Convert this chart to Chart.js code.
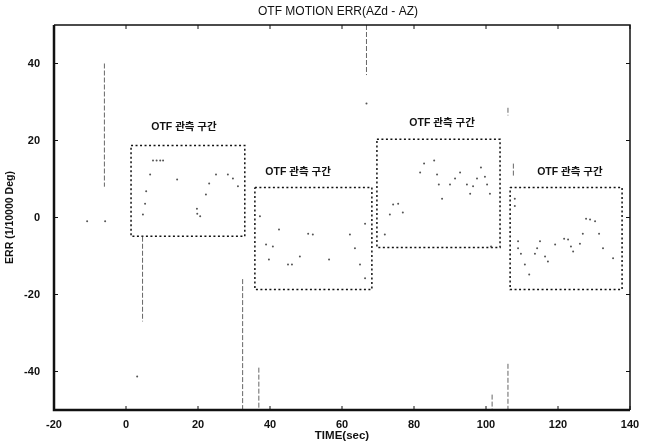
<!DOCTYPE html>
<html>
<head>
<meta charset="utf-8">
<script src="https://cdn.jsdelivr.net/npm/chart.js@4.4.1/dist/chart.umd.min.js"></script>
<style>
  body { margin: 0; background: #fff; }
  #wrap { width: 650px; height: 444px; }
</style>
</head>
<body>
<div id="wrap"><canvas id="chartOtf"></canvas></div>
<script>
const xTicks = [-20, 0, 20, 40, 60, 80, 100, 120, 140]
const yTicks = [-40, -20, 0, 20, 40]

// puntos sueltos del error (tiempo, error)
const timeSec = [
  -10.8, -5.8, 3.1, 66.8,
  4.7, 5.3, 5.6, 6.7, 7.5, 8.5, 9.5, 10.3, 14.2, 19.7, 19.8, 20.6, 22.2, 23.1, 25, 28.3, 29.7, 31.1,
  37.2, 38.9, 39.7, 40.8, 42.5, 45, 46.1, 48.3, 50.6, 51.9, 56.4, 62.2, 63.6, 65, 66.4, 66.4,
  71.9, 73.3, 74.2, 75.6, 76.9, 81.7, 82.8, 85.6, 86.4, 86.9, 87.8, 90, 91.4, 92.8, 94.7, 95.6, 96.4, 97.5, 98.6, 99.7, 100.3, 101.1, 101.4,
  108, 108, 108.9, 108.9, 109.7, 110.8, 112, 113.6, 114.2, 115, 116.4, 117.2, 119.2, 121.7, 122.8, 123.6, 124.2, 126.1, 126.9, 127.8, 128.9, 130.3, 131.4, 132.5, 135.3
]
const errVal = [
  -1, -1, -41.3, 29.6,
  0.8, 3.6, 6.8, 11.2, 14.8, 14.8, 14.8, 14.8, 9.9, 2.3, 1.0, 0.3, 6, 8.8, 11.2, 11.2, 10.1, 8.1,
  0.3, -7, -10.9, -7.5, -3.1, -12.2, -12.2, -10.1, -4.2, -4.4, -10.9, -4.4, -8, -12.2, -15.8, -1.6,
  -4.4, 0.8, 3.4, 3.6, 1.3, 11.7, 14, 14.8, 11.2, 8.6, 4.9, 8.6, 10.1, 11.7, 8.6, 6.2, 8.1, 10.1, 13, 10.6, 8.6, 6.2, -7.5,
  4.9, 3, -6.2, -8, -9.4, -12.2, -14.8, -9.4, -8, -6.2, -10.1, -11.4, -7, -5.5, -5.7, -7.5, -8.8, -6.8, -4.2, -0.3, -0.5, -1, -4.2, -8, -10.6
]

// saltos verticales entre tramos
const spikeX = [-6.0, 4.6, 32.4, 36.9, 66.8, 101.7, 106.1, 106.1, 107.6]
const spikeTop = [40, -5, -16, -39, 50, -46, -38, 28.5, 14]
const spikeBottom = [8, -27, -50, -50, 37, -50, -50, 26.5, 10.5]

// zonas de observacion OTF
const boxX1 = [1.4, 35.8, 69.7, 106.7]
const boxX2 = [33, 68.3, 103.9, 137.8]
const boxTop = [18.7, 7.8, 20.3, 7.8]
const boxBottom = [-4.9, -18.7, -7.8, -18.7]
const boxLabel = 'OTF 관측 구간'
const labelX = [16.1, 47.8, 87.8, 123.3]
const labelY = [23.6, 11.9, 24.4, 11.9]

const chartTitle = 'OTF MOTION ERR(AZd - AZ)'
const fontFam = "'Liberation Sans', Arial, 'Noto Sans CJK KR', sans-serif"

const marcoPlugin = {
  id: 'marco',
  afterDraw (chart) {
    const ctx = chart.ctx
    const a = chart.chartArea
    const sx = chart.scales.x
    const sy = chart.scales.y
    ctx.save()
    ctx.strokeStyle = '#111'
    // frame
    ctx.lineWidth = 1.5
    ctx.beginPath()
    ctx.moveTo(a.left, a.top); ctx.lineTo(a.right, a.top); ctx.lineTo(a.right, a.bottom)
    ctx.stroke()
    ctx.lineWidth = 2.5
    ctx.beginPath()
    ctx.moveTo(a.left, a.top); ctx.lineTo(a.left, a.bottom); ctx.lineTo(a.right, a.bottom)
    ctx.stroke()
    // inward ticks
    ctx.lineWidth = 1
    ctx.beginPath()
    xTicks.forEach(v => {
      const px = sx.getPixelForValue(v)
      ctx.moveTo(px, a.bottom); ctx.lineTo(px, a.bottom - 4)
      ctx.moveTo(px, a.top); ctx.lineTo(px, a.top + 4)
    })
    yTicks.forEach(v => {
      const py = sy.getPixelForValue(v)
      ctx.moveTo(a.left, py); ctx.lineTo(a.left + 4, py)
      ctx.moveTo(a.right, py); ctx.lineTo(a.right - 4, py)
    })
    ctx.stroke()
    // title
    ctx.fillStyle = '#111'
    ctx.font = '12px ' + fontFam
    ctx.textAlign = 'center'
    ctx.textBaseline = 'middle'
    ctx.fillText(chartTitle, (a.left + a.right) / 2 - 4, 12)
    // box labels
    ctx.font = 'bold 10.5px ' + fontFam
    labelX.forEach((lx, i) => {
      ctx.fillText(boxLabel, sx.getPixelForValue(lx), sy.getPixelForValue(labelY[i]))
    })
    ctx.restore()
  }
}

fntGraficaOtf = () => {
  const datasets = []
  datasets.push({
    data: timeSec.map((t, i) => ({ x: t, y: errVal[i] })),
    pointRadius: 1,
    pointBackgroundColor: '#555',
    pointBorderWidth: 0,
    showLine: false
  })
  spikeX.forEach((sxv, i) => {
    datasets.push({
      data: [{ x: sxv, y: spikeTop[i] }, { x: sxv, y: spikeBottom[i] }],
      showLine: true,
      borderColor: '#666',
      borderWidth: 1,
      borderDash: [5, 2],
      pointRadius: 0
    })
  })
  boxX1.forEach((x1, i) => {
    const x2 = boxX2[i]
    datasets.push({
      data: [
        { x: x1, y: boxTop[i] }, { x: x2, y: boxTop[i] },
        { x: x2, y: boxBottom[i] }, { x: x1, y: boxBottom[i] },
        { x: x1, y: boxTop[i] }
      ],
      showLine: true,
      borderColor: '#111',
      borderWidth: 1.5,
      borderDash: [2, 2.5],
      pointRadius: 0
    })
  })

  const ctx = document.getElementById('chartOtf')
  new Chart(ctx, {
    type: 'scatter',
    data: { datasets: datasets },
    plugins: [marcoPlugin],
    options: {
      responsive: true,
      maintainAspectRatio: false,
      animation: false,
      layout: { padding: { top: 25, right: 20, left: 0, bottom: 0 } },
      plugins: {
        legend: { display: false },
        tooltip: { enabled: false },
        title: { display: false }
      },
      scales: {
        x: {
          type: 'linear',
          min: -20,
          max: 140,
          afterFit: s => { s.height = 34 },
          afterBuildTicks: s => { s.ticks = xTicks.map(v => ({ value: v })) },
          grid: { display: false, drawTicks: false },
          border: { display: false },
          ticks: {
            padding: 8,
            color: '#111',
            font: { family: fontFam, size: 11, weight: 'bold' }
          },
          title: {
            display: true,
            text: 'TIME(sec)',
            color: '#111',
            padding: { top: 0, bottom: 1 },
            font: { family: fontFam, size: 11.5, weight: 'bold' }
          }
        },
        y: {
          type: 'linear',
          min: -50,
          max: 50,
          afterFit: s => { s.width = 54 },
          afterBuildTicks: s => { s.ticks = yTicks.map(v => ({ value: v })) },
          grid: { display: false, drawTicks: false },
          border: { display: false },
          ticks: {
            padding: 14,
            color: '#111',
            font: { family: fontFam, size: 11, weight: 'bold' }
          },
          title: {
            display: true,
            text: 'ERR (1/10000 Deg)',
            color: '#111',
            padding: { top: 4, bottom: 0 },
            font: { family: fontFam, size: 10.5, weight: 'bold' }
          }
        }
      }
    }
  })
}

document.addEventListener('DOMContentLoaded', function () {
  fntGraficaOtf()
}, false)
</script>
</body>
</html>
